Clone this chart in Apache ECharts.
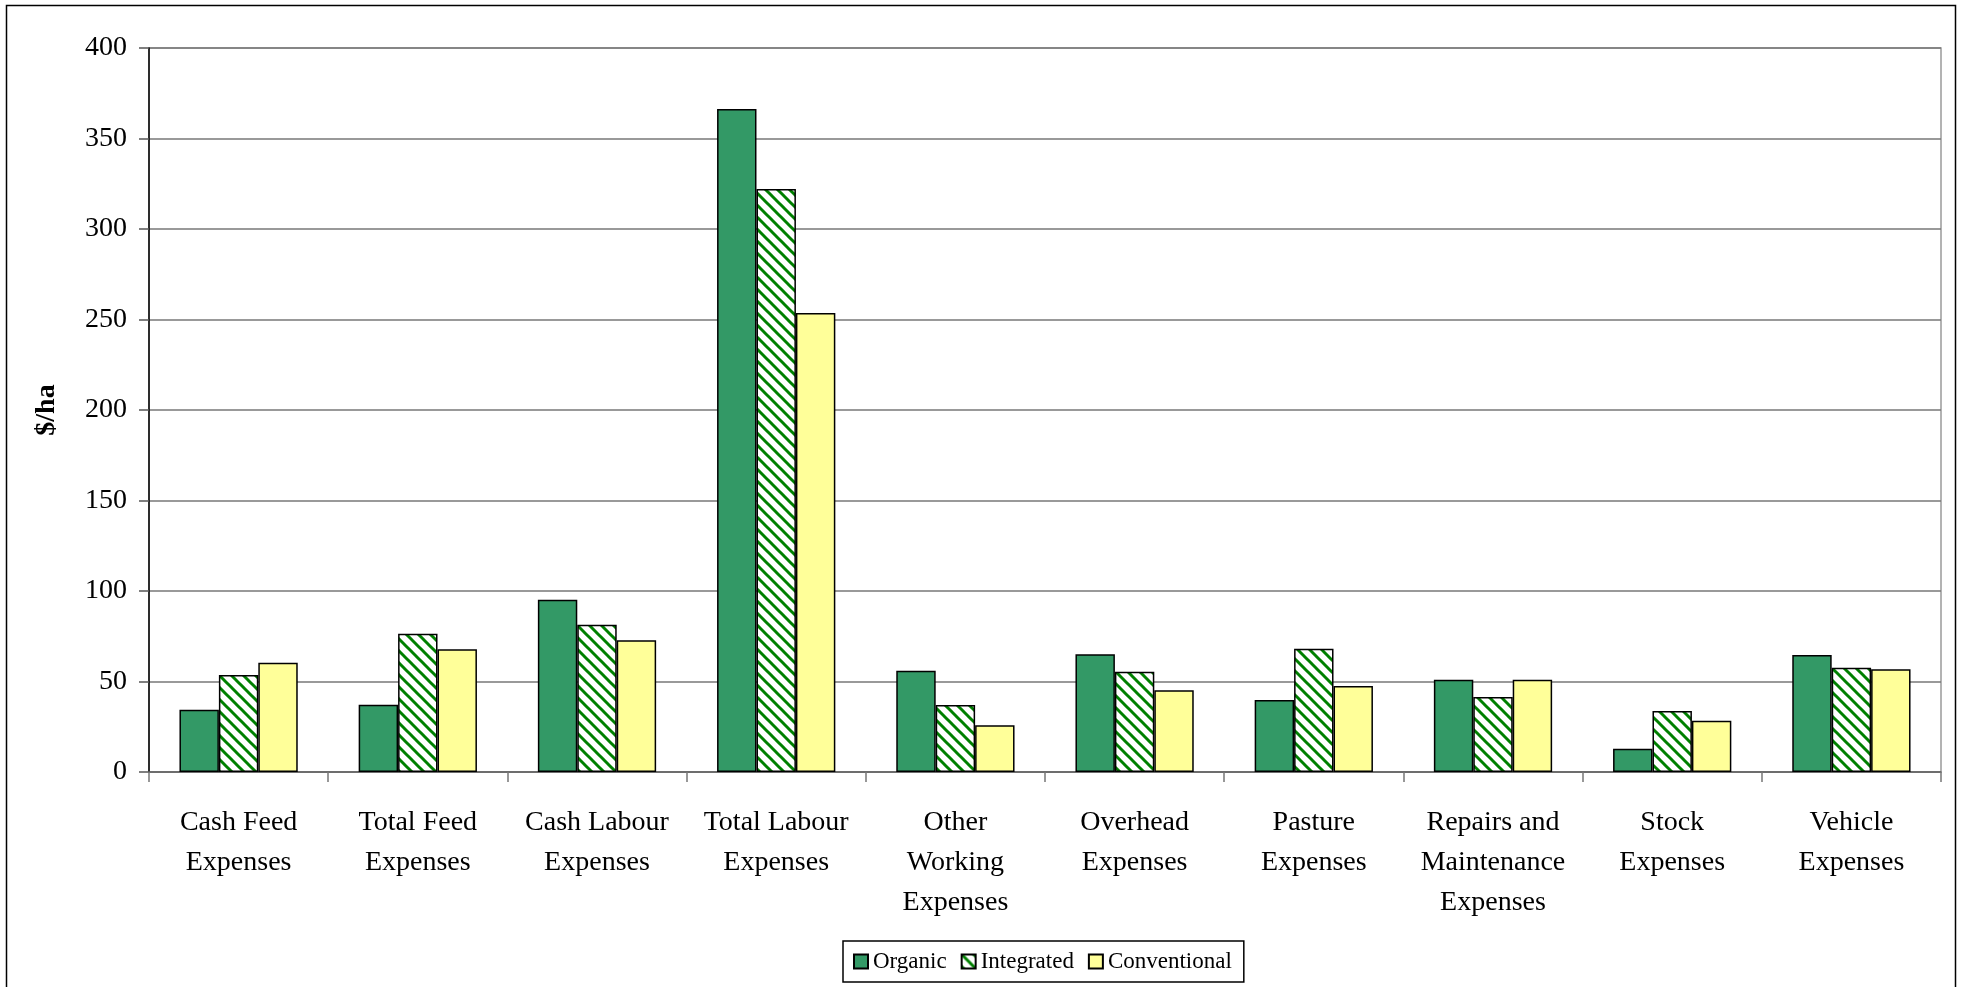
<!DOCTYPE html>
<html>
<head>
<meta charset="utf-8">
<title>Expenses per hectare by farming system</title>
<script src="https://cdn.jsdelivr.net/npm/echarts@6/dist/echarts.min.js"></script>
<style>
  html, body { margin: 0; padding: 0; background: #fff; }
  #chart { width: 1966px; height: 987px; }
</style>
</head>
<body>
<div id="chart"></div>
<script>
// Expense categories (line breaks as printed under the axis)
const categories = [
  'Cash Feed\nExpenses',
  'Total Feed\nExpenses',
  'Cash Labour\nExpenses',
  'Total Labour\nExpenses',
  'Other\nWorking\nExpenses',
  'Overhead\nExpenses',
  'Pasture\nExpenses',
  'Repairs and\nMaintenance\nExpenses',
  'Stock\nExpenses',
  'Vehicle\nExpenses'
];

// $/ha for each farming system
const organic      = [34.4, 37.2, 95.2, 366.3, 56.0, 65.0, 39.8, 51.0, 12.8, 64.6];
const integrated   = [53.6, 76.4, 81.4, 322.1, 37.0, 55.4, 68.1, 41.5, 33.7, 57.6];
const conventional = [60.4, 67.8, 72.8, 253.6, 25.8, 45.1, 47.5, 51.0, 28.3, 56.8];

// Value axis ticks
const yTicks = [0, 50, 100, 150, 200, 250, 300, 350, 400];

const FONT = "'Liberation Serif', 'Times New Roman', serif";

// Diagonal green-on-white hatch used for the Integrated bars
function makeHatch() {
  const size = 12;
  const c = document.createElement('canvas');
  c.width = size; c.height = size;
  const ctx = c.getContext('2d');
  ctx.fillStyle = '#ffffff';
  ctx.fillRect(0, 0, size, size);
  ctx.strokeStyle = '#008000';
  ctx.lineWidth = 3;
  for (let k = -size; k <= size; k += size) {
    ctx.beginPath();
    ctx.moveTo(-2, k - 2);
    ctx.lineTo(size + 2, size + k + 2);
    ctx.stroke();
  }
  return c;
}

const hatch = { image: makeHatch(), repeat: 'repeat' };

const chart = echarts.init(document.getElementById('chart'), null, { renderer: 'canvas' });

const barStyle = (color) => ({ color: color, borderColor: '#000', borderWidth: 1.5 });

chart.setOption({
  animation: false,
  backgroundColor: '#fff',
  textStyle: { fontFamily: FONT, color: '#000' },
  graphic: [{
    type: 'rect',
    shape: { x: 6.5, y: 5.5, width: 1949, height: 1010 },
    style: { fill: 'none', stroke: '#000', lineWidth: 1.5 },
    silent: true
  }],
  grid: {
    left: 149, right: 25, top: 48, bottom: 215,
    show: true, borderColor: '#9a9a9a', borderWidth: 1.5, backgroundColor: 'transparent'
  },
  legend: {
    left: 843, top: 941,
    padding: [9, 12, 9, 10],
    itemGap: 14,
    itemWidth: 14, itemHeight: 14,
    icon: 'rect',
    borderColor: '#000', borderWidth: 1.5,
    textStyle: { fontFamily: FONT, fontSize: 23, color: '#000' },
    data: ['Organic', 'Integrated', 'Conventional']
  },
  xAxis: {
    type: 'category',
    data: categories,
    axisLine: { lineStyle: { color: '#666', width: 1.5 } },
    axisTick: { show: true, length: 10, lineStyle: { color: '#777', width: 1.5 } },
    axisLabel: {
      fontFamily: FONT, fontSize: 28, color: '#000',
      lineHeight: 40, margin: 31, interval: 0
    }
  },
  yAxis: {
    type: 'value',
    min: yTicks[0], max: yTicks[yTicks.length - 1], interval: 50,
    name: '$/ha',
    nameLocation: 'middle',
    nameGap: 88,
    nameTextStyle: { fontFamily: FONT, fontSize: 28, fontWeight: 'bold', color: '#000' },
    axisLine: { show: true, lineStyle: { color: '#000', width: 1.5 } },
    axisTick: { show: true, length: 10, lineStyle: { color: '#555', width: 1.5 } },
    axisLabel: { fontFamily: FONT, fontSize: 28, color: '#000', margin: 22 },
    splitLine: { lineStyle: { color: '#777', width: 1.5 } }
  },
  series: [
    { name: 'Organic', type: 'bar', data: organic, barGap: '0%', barCategoryGap: '34%', itemStyle: barStyle('#339966') },
    { name: 'Integrated', type: 'bar', data: integrated, barGap: '0%', barCategoryGap: '34%', itemStyle: barStyle(hatch) },
    { name: 'Conventional', type: 'bar', data: conventional, barGap: '0%', barCategoryGap: '34%', itemStyle: barStyle('#ffff99') }
  ]
});
</script>
</body>
</html>
